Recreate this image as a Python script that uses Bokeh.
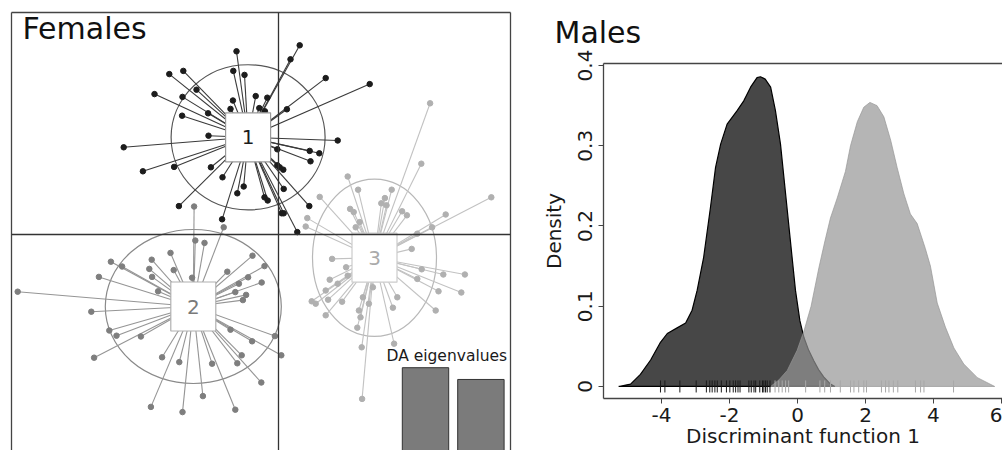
import math
from bokeh.plotting import figure
from bokeh.models import LinearAxis, FixedTicker, Span, Range1d
from bokeh.layouts import row
from bokeh.core.properties import value
from bokeh.embed import file_html
from bokeh.resources import INLINE

FONT = "DejaVu Sans"

# ---------------- Females: DAPC scores (LD1, LD2) ----------------
g1_x = [-1.05, 0.53, 0.30, -2.73, -2.38, -1.13, -0.85, 1.18, 2.28, -3.10, -2.05, -2.40, -1.14, -0.57, -0.28,
        -1.20, -0.48, 0.21, -1.76, -2.41, -0.34, -1.75, -3.87, 1.48, 0.78, 1.02, 0.80, -0.03, -3.39, -2.61,
        -1.69, -1.40, -0.87, -1.03, -0.03, 0.12, 0.03, 0.13, -0.35, -0.27, -2.49, 0.77, 0.08, 0.13, -1.41, 0.47]
g1_y = [4.58, 4.73, 4.38, 4.01, 4.09, 4.09, 3.99, 3.91, 3.76, 3.51, 3.62, 3.44, 3.35, 3.46, 3.42,
        3.14, 3.16, 3.13, 3.03, 2.97, 3.08, 2.47, 2.18, 2.35, 2.09, 2.03, 1.83, 2.13, 1.58, 1.69,
        1.68, 1.43, 1.20, 1.03, 1.73, 1.62, 1.68, 1.14, 0.93, 0.85, 0.71, 0.71, 0.53, 0.53, 0.38, 0.06]

g2_x = [-2.11, -1.37, -2.08, -1.85, -2.70, -3.17, -4.19, -3.91, -0.65, -0.35, -3.23, -2.62, -1.28, -4.49, -3.16,
        -2.16, -0.76, -0.99, -0.42, -3.01, -1.08, -0.81, -0.89, -6.52, -4.68, -4.23, -4.05, -3.44, -1.20, -0.09,
        -0.66, 0.07, -4.61, -2.91, -2.48, -1.66, -1.03, -0.92, -0.43, -1.89, -3.19, -2.40, -1.08]
g2_y = [0.70, 0.18, -0.15, -0.21, -0.46, -0.63, -0.68, -0.80, -0.53, -0.79, -0.86, -0.89, -0.93, -1.06, -1.06,
        -1.08, -1.07, -1.23, -1.20, -1.42, -1.44, -1.51, -1.64, -1.43, -1.93, -2.40, -2.53, -2.55, -2.38, -2.54,
        -2.67, -3.02, -3.08, -3.07, -3.19, -3.23, -3.22, -3.02, -3.70, -4.04, -4.31, -4.44, -4.38]

g3_x = [3.79, 3.57, 1.73, 1.99, 2.83, 1.03, 5.32, 2.66, 2.57, 2.70, 1.79, 1.88, 3.09, 3.21, 4.18, 0.72, 1.93,
        0.68, 2.03, 3.47, 3.84, 3.33, 1.34, 1.69, 3.58, 4.12, 4.66, 1.73, 1.28, 3.47, 1.48, 4.00, 4.57, 1.18,
        1.24, 0.83, 0.93, 1.59, 2.11, 2.26, 2.97, 2.01, 2.05, 2.86, 3.93, 1.18, 1.97, 2.08, 2.89, 2.09, 2.36]
g3_y = [3.28, 1.77, 1.45, 1.12, 1.12, 0.94, 0.93, 0.91, 0.78, 0.73, 0.64, 0.56, 0.58, 0.48, 0.50, 0.41, 0.18,
        0.20, 0.31, 0.02, 0.18, -0.36, -0.61, -0.82, -0.87, -1.00, -1.00, -1.03, -1.13, -1.11, -1.23, -1.42,
        -1.45, -1.40, -1.63, -1.67, -1.73, -1.68, -1.57, -1.73, -1.57, -1.90, -2.07, -1.83, -1.90, -2.02,
        -2.33, -2.82, -2.73, -4.11, -1.32]

group_labels = ["1", "2", "3"]
centroid_x = [-0.76, -2.13, 2.40]
centroid_y = [2.43, -1.80, -0.58]
ellipse_w = [3.85, 4.40, 3.10]
ellipse_h = [3.63, 3.85, 3.93]
da_eigenvalues = [100.0, 86.6]

# ---------------- Males: density of discriminant function 1 ----------------
dens_dark_x = [-5.26, -4.91, -4.62, -4.32, -4.03, -3.83, -3.54, -3.29, -3.10, -2.95, -2.76, -2.56, -2.41,
               -2.26, -2.07, -1.77, -1.58, -1.38, -1.19, -1.09, -0.95, -0.79, -0.65, -0.50, -0.35, -0.21,
               -0.06, 0.07, 0.19, 0.33, 0.48, 0.62, 0.77, 0.97, 1.10]
dens_dark_y = [0.0, 0.003, 0.015, 0.033, 0.055, 0.066, 0.073, 0.079, 0.095, 0.120, 0.161, 0.223, 0.273,
               0.302, 0.327, 0.344, 0.356, 0.373, 0.385, 0.386, 0.383, 0.373, 0.344, 0.302, 0.240, 0.182,
               0.120, 0.082, 0.061, 0.045, 0.032, 0.021, 0.012, 0.003, 0.0]
dens_light_x = [-0.79, -0.55, -0.30, -0.01, 0.19, 0.40, 0.63, 0.80, 0.97, 1.17, 1.41, 1.56, 1.76, 1.95, 2.13,
                2.34, 2.54, 2.74, 2.93, 3.13, 3.32, 3.52, 3.76, 3.91, 4.11, 4.35, 4.60, 4.89, 5.29, 5.80]
dens_light_y = [0.0, 0.008, 0.020, 0.045, 0.069, 0.100, 0.148, 0.180, 0.210, 0.235, 0.268, 0.300, 0.330,
                0.348, 0.354, 0.350, 0.336, 0.307, 0.273, 0.240, 0.215, 0.203, 0.172, 0.150, 0.104, 0.074,
                0.048, 0.028, 0.011, 0.0]
rug_dark = [-4.03, -3.90, -3.46, -2.98, -2.68, -2.58, -2.51, -2.43, -2.36, -2.24, -2.09, -1.99, -1.89,
            -1.82, -1.75, -1.69, -1.43, -1.36, -1.28, -1.23, -1.11, -1.03, -0.99, -0.94, -0.89, -0.81]
rug_light = [-0.66, -0.55, -0.45, -0.35, -0.26, 0.24, 0.66, 0.80, 0.97, 1.26, 1.56, 1.66, 1.80, 1.95, 2.03,
             2.47, 2.59, 2.69, 2.82, 2.95, 3.47, 3.62, 3.72, 4.59]
x_ticks = [-4, -2, 0, 2, 4, 6]
y_ticks = [0, 0.1, 0.2, 0.3, 0.4]


def frame_axis(loc_plot, loc):
    ax = LinearAxis(ticker=FixedTicker(ticks=[]), major_tick_out=0, major_tick_in=0,
                    minor_tick_out=0, minor_tick_in=0, major_label_standoff=0,
                    major_label_text_font_size="0px", axis_line_color="#444444", axis_line_width=1.3)
    loc_plot.add_layout(ax, loc)


# ================= left panel =================
p1 = figure(width=530, height=450, x_range=Range1d(-6.675, 5.8), y_range=Range1d(-5.4, 5.55),
            x_axis_location=None, y_axis_location=None, toolbar_location=None, output_backend="svg",
            min_border_left=11, min_border_right=20, min_border_top=12, min_border_bottom=0)
p1.frame_align = False
p1.outline_line_color = None
p1.grid.visible = False
for loc in ("left", "above", "right"):
    frame_axis(p1, loc)

p1.add_layout(Span(location=0, dimension="height", line_color="#333333", line_width=1.3))
p1.add_layout(Span(location=0, dimension="width", line_color="#333333", line_width=1.3))

groups = [(g1_x, g1_y, "#3a3a3a", "#1c1c1c", "#555555"),
          (g2_x, g2_y, "#959595", "#7e7e7e", "#8a8a8a"),
          (g3_x, g3_y, "#c2c2c2", "#b0b0b0", "#b8b8b8")]
for i, (gx, gy, lc, pc, ec) in enumerate(groups):
    n = len(gx)
    p1.ellipse(x=[centroid_x[i]], y=[centroid_y[i]], width=[ellipse_w[i]], height=[ellipse_h[i]],
               fill_color=None, line_color=ec, line_width=1.2)
    p1.segment(x0=[centroid_x[i]] * n, y0=[centroid_y[i]] * n, x1=gx, y1=gy, line_color=lc, line_width=1.1)
    p1.scatter(gx, gy, size=5.5, fill_color=pc, line_color=pc)

p1.rect(x=centroid_x, y=centroid_y, width=1.125, height=1.225, fill_color="white",
        line_color=["#9a9a9a", "#b0b0b0", "#cccccc"], line_width=1.2)
p1.text(x=centroid_x, y=centroid_y, text=group_labels, text_font=value(FONT), text_font_size="20px",
        text_align="center", text_baseline="middle", text_color=["#1c1c1c", "#7a7a7a", "#aaaaaa"])

p1.text(x=[-6.40], y=[5.145], text=["Females"], text_font=value(FONT), text_font_size="30px",
        text_color="#111111", text_baseline="alphabetic", text_align="left")

# DA eigenvalues inset
inset_bottom = -5.525
inset_scale = 2.195 / max(da_eigenvalues)
p1.vbar(x=[3.675, 5.06], top=[inset_bottom + v * inset_scale for v in da_eigenvalues], bottom=inset_bottom,
        width=1.16, fill_color="#7b7b7b", line_color="#333333", line_width=1)
p1.text(x=[2.70], y=[-3.045], text=["DA eigenvalues"], text_font=value(FONT), text_font_size="15.5px",
        text_color="#1a1a1a", text_baseline="alphabetic", text_align="left")

# ================= right panel =================
p2 = figure(width=472, height=450, x_range=Range1d(-5.706, 6.03), y_range=Range1d(-0.015, 0.4025),
            toolbar_location=None, output_backend="svg",
            min_border_left=73, min_border_right=0, min_border_top=63, min_border_bottom=52)
p2.frame_align = False
p2.outline_line_color = None
p2.grid.visible = False

p2.patch(dens_dark_x, dens_dark_y, fill_color="black", fill_alpha=0.72, line_color="black", line_width=1.2)
p2.patch(dens_light_x, dens_light_y, fill_color="#969696", fill_alpha=0.7, line_color="#969696",
         line_alpha=0.7, line_width=1)
p2.segment(x0=rug_dark, y0=[-0.0075] * len(rug_dark), x1=rug_dark, y1=[0.0075] * len(rug_dark),
           line_color="#1a1a1a", line_width=1)
p2.segment(x0=rug_light, y0=[-0.0075] * len(rug_light), x1=rug_light, y1=[0.0075] * len(rug_light),
           line_color="#a8a8a8", line_width=1)

for ax in (p2.xaxis, p2.yaxis):
    ax.axis_line_color = "#444444"
    ax.axis_line_width = 1.3
    ax.major_tick_line_color = "#444444"
    ax.major_tick_out = 5
    ax.major_tick_in = 0
    ax.minor_tick_out = 0
    ax.minor_tick_in = 0
    ax.major_label_text_font = FONT
    ax.major_label_text_font_size = "20px"
    ax.major_label_text_color = "#1a1a1a"
    ax.axis_label_text_font = FONT
    ax.axis_label_text_font_size = "20px"
    ax.axis_label_text_font_style = "normal"
    ax.axis_label_text_color = "#1a1a1a"

p2.xaxis.ticker = FixedTicker(ticks=x_ticks)
p2.xaxis.major_label_overrides = {t: str(t) for t in x_ticks}
p2.xaxis.major_label_standoff = 4
p2.xaxis.axis_label = "Discriminant function 1"
p2.xaxis.axis_label_standoff = -1
p2.yaxis.ticker = FixedTicker(ticks=y_ticks)
p2.yaxis.major_label_overrides = {t: ("0" if t == 0 else str(t)) for t in y_ticks}
p2.yaxis.major_label_orientation = "parallel"
p2.yaxis.major_label_standoff = 6
p2.yaxis.axis_label = "Density"
p2.yaxis.axis_label_standoff = 10

frame_axis(p2, "above")

p2.title.text = "Males"
p2.title.align = "left"
p2.title.vertical_align = "top"
p2.title.offset = -49
p2.title.standoff = 24
p2.title.text_font = FONT
p2.title.text_font_size = "30px"
p2.title.text_font_style = "normal"
p2.title.text_color = "#111111"

layout = row(p1, p2)
open("out.html", "w").write(file_html(layout, INLINE))
